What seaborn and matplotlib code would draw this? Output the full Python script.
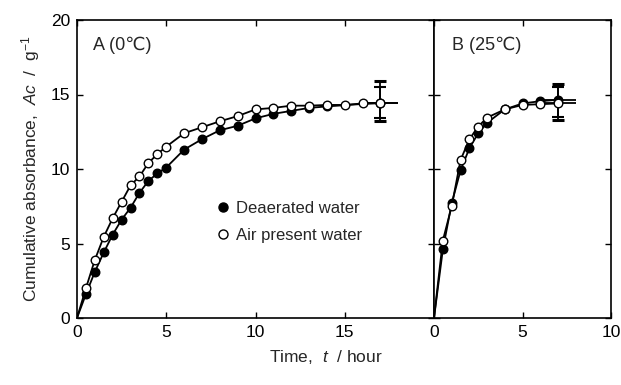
import matplotlib
matplotlib.use("Agg")
import matplotlib.pyplot as plt
import seaborn as sns
import pandas as pd
from matplotlib.lines import Line2D

# ---- data ----
tA = [0.5, 1, 1.5, 2, 2.5, 3, 3.5, 4, 4.5, 5, 6, 7, 8, 9, 10, 11, 12, 13, 14, 17]
deaer_A = [1.6, 3.1, 4.4, 5.6, 6.6, 7.4, 8.4, 9.2, 9.7, 10.1, 11.3, 12.0, 12.6, 12.9, 13.4, 13.7, 13.9, 14.1, 14.2, 14.45]
tA_air = [0.5, 1, 1.5, 2, 2.5, 3, 3.5, 4, 4.5, 5, 6, 7, 8, 9, 10, 11, 12, 13, 14, 15, 16, 17]
air_A = [2.0, 3.9, 5.45, 6.7, 7.8, 8.9, 9.5, 10.4, 11.0, 11.5, 12.4, 12.8, 13.2, 13.55, 14.0, 14.1, 14.25, 14.25, 14.3, 14.3, 14.4, 14.4]

tB = [0.5, 1, 1.5, 2, 2.5, 3, 4, 5, 6, 7]
deaer_B = [4.6, 7.7, 9.9, 11.4, 12.4, 13.1, 14.0, 14.4, 14.55, 14.65]
air_B = [5.2, 7.5, 10.6, 12.0, 12.85, 13.45, 14.0, 14.3, 14.35, 14.4]

# error bars on final point (lower, upper)
errA_deaer = [1.25, 1.45]
errA_air = [0.95, 1.1]
errB_deaer = [1.35, 1.05]
errB_air = [0.9, 1.1]
xerr_end = 1.0

sns.set_theme(style="ticks")
plt.rcParams['font.family'] = ['Liberation Sans', 'DejaVu Sans']
plt.rcParams['mathtext.fontset'] = 'custom'
plt.rcParams['mathtext.rm'] = 'Liberation Sans'
plt.rcParams['mathtext.it'] = 'Liberation Sans:italic'
plt.rcParams['axes.edgecolor'] = 'black'
plt.rcParams['axes.linewidth'] = 1.2

fig = plt.figure(figsize=(6.21, 3.85), dpi=100)
axA = fig.add_axes([77/621, 1-318/385, 357/621, 298/385])
axB = fig.add_axes([434/621, 1-318/385, 177/621, 298/385])


def draw(ax, t1, y1, t2, y2, e1, e2):
    d1 = pd.DataFrame({"t": [0] + t1, "v": [0] + y1})
    d2 = pd.DataFrame({"t": [0] + t2, "v": [0] + y2})
    sns.lineplot(data=d1, x="t", y="v", ax=ax, color="black", lw=1.3, sort=False, zorder=2)
    sns.lineplot(data=d2, x="t", y="v", ax=ax, color="black", lw=1.3, sort=False, zorder=2)
    ax.errorbar(t1[-1], y1[-1], yerr=[[e1[0]], [e1[1]]], fmt='none',
                ecolor='black', elinewidth=1.3, capsize=4, capthick=2.2, zorder=3)
    ax.errorbar(t2[-1], y2[-1], yerr=[[e2[0]], [e2[1]]], fmt='none',
                ecolor='black', elinewidth=1.3, capsize=4, capthick=1.5, zorder=3)
    ax.errorbar(t1[-1], y1[-1], xerr=xerr_end, fmt='none',
                ecolor='black', elinewidth=1.3, capsize=0, zorder=3)
    ax.errorbar(t2[-1], y2[-1], xerr=xerr_end, fmt='none',
                ecolor='black', elinewidth=1.3, capsize=0, zorder=3)
    sns.scatterplot(x=t1, y=y1, ax=ax, color="black", edgecolor="black", s=38, linewidth=1, zorder=4)
    sns.scatterplot(x=t2, y=y2, ax=ax, color="white", edgecolor="black", s=38, linewidth=1, zorder=5)


draw(axA, tA, deaer_A, tA_air, air_A, errA_deaer, errA_air)
draw(axB, tB, deaer_B, tB, air_B, errB_deaer, errB_air)

for ax in (axA, axB):
    ax.set_ylim(0, 20)
    ax.set_yticks([0, 5, 10, 15, 20])
    ax.tick_params(direction='in', length=4, width=1, top=True, right=True,
                   labelsize=12.5, colors='black', pad=5)
    ax.set_xlabel("")
    ax.set_ylabel("")
    for s in ax.spines.values():
        s.set_color('black')

axA.set_xlim(0, 20)
axA.set_xticks([0, 5, 10, 15, 20])
axA.set_xticklabels(["0", "5", "10", "15", ""])
axB.set_xlim(0, 10)
axB.set_xticks([0, 5, 10])
axB.set_yticklabels([])
axB.tick_params(axis='y', which='both', labelleft=False)

axA.set_ylabel(r"Cumulative absorbance,  $Ac$  /  g$^{\mathregular{-1}}$", fontsize=12.5, labelpad=6)
fig.text(326/621, 1-357/385, r"Time,  $t$  / hour", ha='center', va='center', fontsize=12.5)

axA.text(0.045, 0.945, "A (0\u2103)", transform=axA.transAxes, fontsize=13, va='top', ha='left')
axB.text(0.1, 0.945, "B (25\u2103)", transform=axB.transAxes, fontsize=13, va='top', ha='left')

handles = [Line2D([], [], marker='o', ls='none', mfc='black', mec='black', ms=6.5),
           Line2D([], [], marker='o', ls='none', mfc='white', mec='black', ms=6.5)]
axA.legend(handles, ["Deaerated water", "Air present water"], loc='upper left',
           bbox_to_anchor=(0.338, 0.443), frameon=False, fontsize=12,
           handletextpad=0.2, handlelength=1.2, labelspacing=0.7)

fig.savefig("out.png", dpi=100)
